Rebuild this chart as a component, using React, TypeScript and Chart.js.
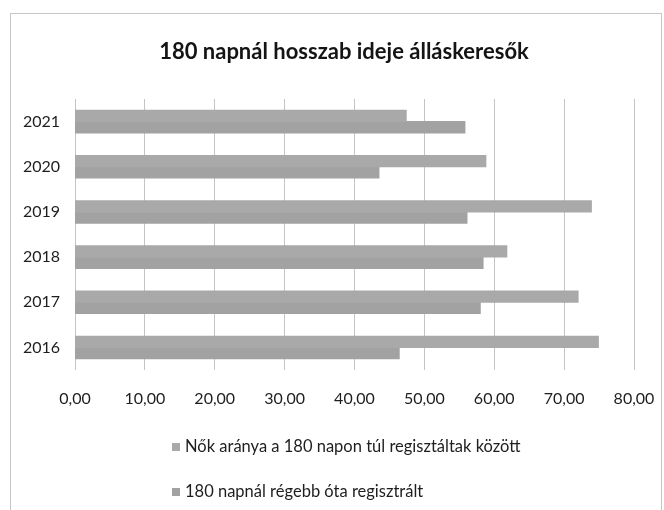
import React, { useEffect, useRef } from "react";
import { Chart, registerables } from "chart.js";

Chart.register(...registerables);

const TITLE = "180 napnál hosszab ideje álláskeresők";
const YEARS = ["2021", "2020", "2019", "2018", "2017", "2016"];
const SERIES_A_LABEL = "Nők aránya a 180 napon túl regisztáltak között";
const SERIES_A = [47.4, 58.8, 73.9, 61.8, 72.0, 74.9];
const SERIES_B_LABEL = "180 napnál régebb óta regisztrált";
const SERIES_B = [55.8, 43.5, 56.1, 58.4, 58.0, 46.4];
const X_MIN = 0;
const X_MAX = 80;
const X_STEP = 10;

const COLOR_A = "#a9a9a9";
const COLOR_B = "#a2a2a2";
const FONT = "Lato, 'Open Sans', sans-serif";

const decorPlugin = {
  id: "decor",
  beforeDraw(chart: any) {
    const ctx = chart.ctx;
    ctx.save();
    ctx.fillStyle = "#ffffff";
    ctx.fillRect(0, 0, chart.width, chart.height);
    ctx.strokeStyle = "#c8c8c8";
    ctx.lineWidth = 1;
    ctx.strokeRect(10.5, 13.5, 651, 520);
    ctx.restore();
  },
  afterDraw(chart: any) {
    const ctx = chart.ctx;
    ctx.save();
    ctx.fillStyle = "#141414";
    ctx.font = `bold 22px ${FONT}`;
    ctx.textAlign = "center";
    ctx.textBaseline = "middle";
    ctx.fillText(TITLE, 344, 52);

    ctx.font = `16.5px ${FONT}`;
    ctx.textAlign = "left";
    const rows = [447, 492];
    chart.data.datasets.forEach((ds: any, i: number) => {
      const y = rows[i];
      ctx.fillStyle = ds.backgroundColor;
      ctx.fillRect(172, y - 4, 8, 8);
      ctx.fillStyle = "#1e1e1e";
      ctx.fillText(ds.label, 185, y);
    });
    ctx.restore();
  },
};

export default function App() {
  const ref = useRef<HTMLCanvasElement | null>(null);
  useEffect(() => {
    if (!ref.current) return;
    const chart = new Chart(ref.current, {
      type: "bar",
      data: {
        labels: YEARS,
        datasets: [
          { label: SERIES_A_LABEL, data: SERIES_A, backgroundColor: COLOR_A },
          { label: SERIES_B_LABEL, data: SERIES_B, backgroundColor: COLOR_B },
        ],
      },
      options: {
        indexAxis: "y",
        animation: false,
        responsive: false,
        devicePixelRatio: 1,
        layout: { padding: { left: 0, right: 30, top: 99, bottom: 90 } },
        datasets: {
          bar: { categoryPercentage: 0.5, barPercentage: 1.0, borderWidth: 0, inflateAmount: 0.5 },
        },
        plugins: {
          legend: { display: false },
          title: { display: false },
          tooltip: { enabled: false },
        },
        scales: {
          x: {
            min: X_MIN,
            max: X_MAX,
            border: { display: false },
            grid: {
              color: "#c4c4c4",
              drawTicks: false,
              lineWidth: 1,
            },
            ticks: {
              stepSize: X_STEP,
              padding: 19,
              color: "#1e1e1e",
              font: { family: FONT, size: 16 },
              callback: (v: any) => Number(v).toFixed(2).replace(".", ","),
            },
            afterFit: (s: any) => {
              s.height = 50;
              s.paddingLeft = 0;
              s.paddingRight = 0;
            },
          },
          y: {
            border: { display: false },
            grid: { display: false },
            ticks: {
              padding: 7,
              color: "#1e1e1e",
              font: { family: FONT, size: 16 },
            },
            afterFit: (s: any) => {
              s.width = 75;
              s.paddingTop = 0;
              s.paddingBottom = 0;
            },
          },
        },
      },
      plugins: [decorPlugin],
    });
    return () => chart.destroy();
  }, []);
  return (
    <div style={{ position: "fixed", left: 0, top: 0, width: 664, height: 510 }}>
      <canvas ref={ref} width={664} height={510} style={{ width: 664, height: 510, display: "block" }} />
    </div>
  );
}
